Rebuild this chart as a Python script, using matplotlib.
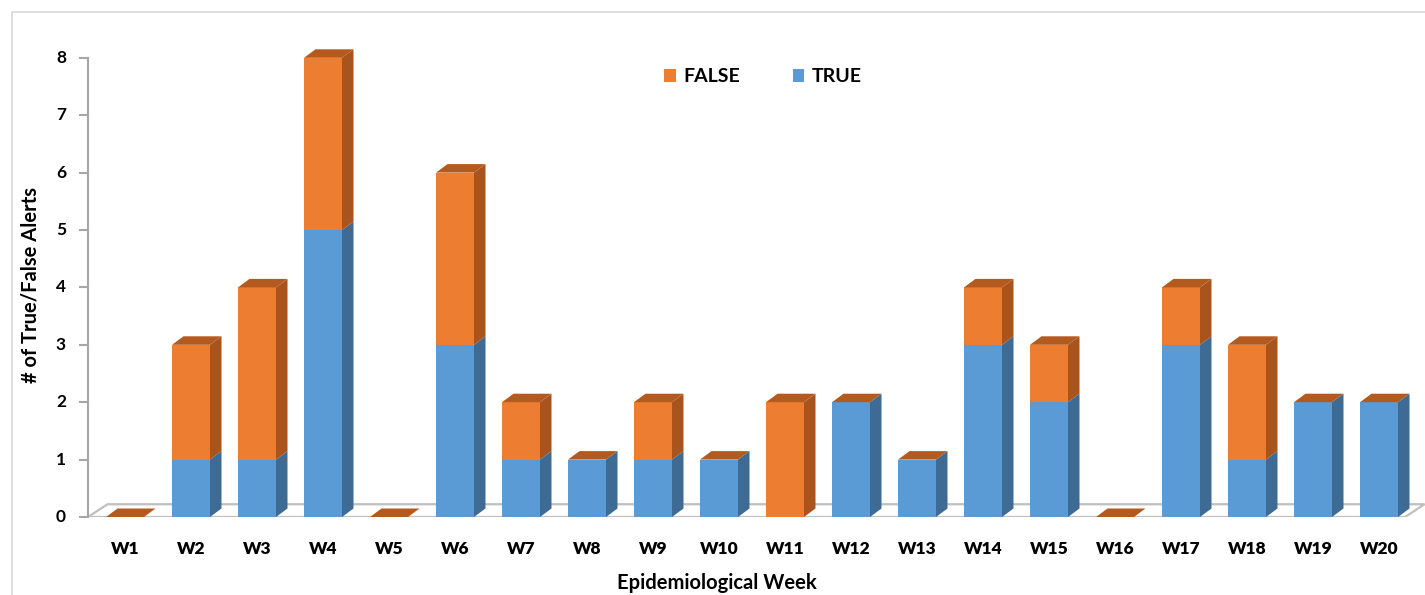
import matplotlib
matplotlib.use("Agg")
import matplotlib.pyplot as plt
from matplotlib.patches import Polygon, Rectangle, Patch

weeks = [f"W{i}" for i in range(1, 21)]
true_vals = [0, 1, 1, 5, 0, 3, 1, 1, 1, 1, 0, 2, 1, 3, 2, 0, 3, 1, 2, 2]
false_vals = [0, 2, 3, 3, 0, 3, 1, 0, 1, 0, 2, 0, 0, 1, 1, 0, 1, 2, 0, 0]
y_ticks = [0, 1, 2, 3, 4, 5, 6, 7, 8]

c_true = "#5B9BD5"
c_true_side = "#3D6B94"
c_false = "#ED7D31"
c_false_side = "#A9531D"
c_top = "#B45A1F"

plt.rcParams['font.family'] = ['Lato', 'DejaVu Sans']

fig = plt.figure(figsize=(14.25, 5.95), dpi=100)
W, H = 1425, 595
# outer light border
fig.patches.append(Rectangle((12 / W, -0.1), 1.2, 1 - 12 / H + 0.1, transform=fig.transFigure,
                             fill=False, edgecolor="#d9d9d9", linewidth=1.2))

ax = fig.add_axes([88 / W, (H - 517) / H, 1 - 88 / W, (517 - 30) / H])
px_x = 66.0
px_y = 57.4
x0 = -(125 - 88) / px_x
x1 = x0 + (W - 88) / px_x
ax.set_xlim(x0, x1)
ax.set_ylim(0, (517 - 30) / px_y)

dx = 11.5 / px_x
dy = 8.5 / px_y
bw = 38 / px_x

# floor
floor_right = (1405 - 125) / px_x
ax.add_patch(Polygon([(x0, 0), (floor_right, 0), (floor_right + dx * 1.7, dy * 1.5), (x0 + dx * 1.7, dy * 1.5)],
                     closed=True, facecolor="white", edgecolor="#bfbfbf", linewidth=1.6, zorder=1))

xs = list(range(len(weeks)))
ax.bar(xs, true_vals, width=bw, color=c_true, zorder=3)
ax.bar(xs, false_vals, width=bw, bottom=true_vals, color=c_false, zorder=3)

for i, (t, f) in enumerate(zip(true_vals, false_vals)):
    r = i + bw / 2
    l = i - bw / 2
    for (b0, b1, col) in [(0, t, c_true_side), (t, t + f, c_false_side)]:
        if b1 > b0:
            ax.add_patch(Polygon([(r, b0), (r + dx, b0 + dy), (r + dx, b1 + dy), (r, b1)],
                                 closed=True, facecolor=col, edgecolor="none", zorder=3))
    top = t + f
    ax.add_patch(Polygon([(l, top), (r, top), (r + dx, top + dy), (l + dx, top + dy)],
                         closed=True, facecolor=c_top, edgecolor="none", zorder=4))

# y axis line with ticks
ax.plot([x0, x0], [0, 8], color="#a6a6a6", linewidth=1.5, zorder=2, clip_on=False)
for v in y_ticks:
    ax.plot([x0 - 8 / px_x, x0], [v, v], color="#a6a6a6", linewidth=1.5, clip_on=False)
    ax.text(x0 - 22 / px_x, v, str(v), ha="right", va="center", fontsize=12.5, fontweight="bold")

for sp in ax.spines.values():
    sp.set_visible(False)
ax.set_xticks([])
ax.set_yticks([])

for i, w in enumerate(weeks):
    ax.text(i, -32 / px_y, w, ha="center", va="center", fontsize=12.5, fontweight="heavy")

fig.text(717 / W, 1 - 583 / H, "Epidemiological Week", ha="center", va="center",
         fontsize=14.5, fontweight="bold")
fig.text(31 / W, 1 - 285 / H, "# of True/False Alerts", ha="center", va="center",
         rotation=90, fontsize=14.5, fontweight="bold")

handles = [Patch(facecolor=c_false, label="FALSE"), Patch(facecolor=c_true, label="TRUE")]
fig.legend(handles=handles, loc="center", bbox_to_anchor=(763 / W, 1 - 77 / H), ncol=2,
           frameon=False, prop={"weight": "bold", "size": 14}, handlelength=0.6, handleheight=0.6,
           handletextpad=0.4, columnspacing=2.7)

fig.savefig("out.png", dpi=100)
